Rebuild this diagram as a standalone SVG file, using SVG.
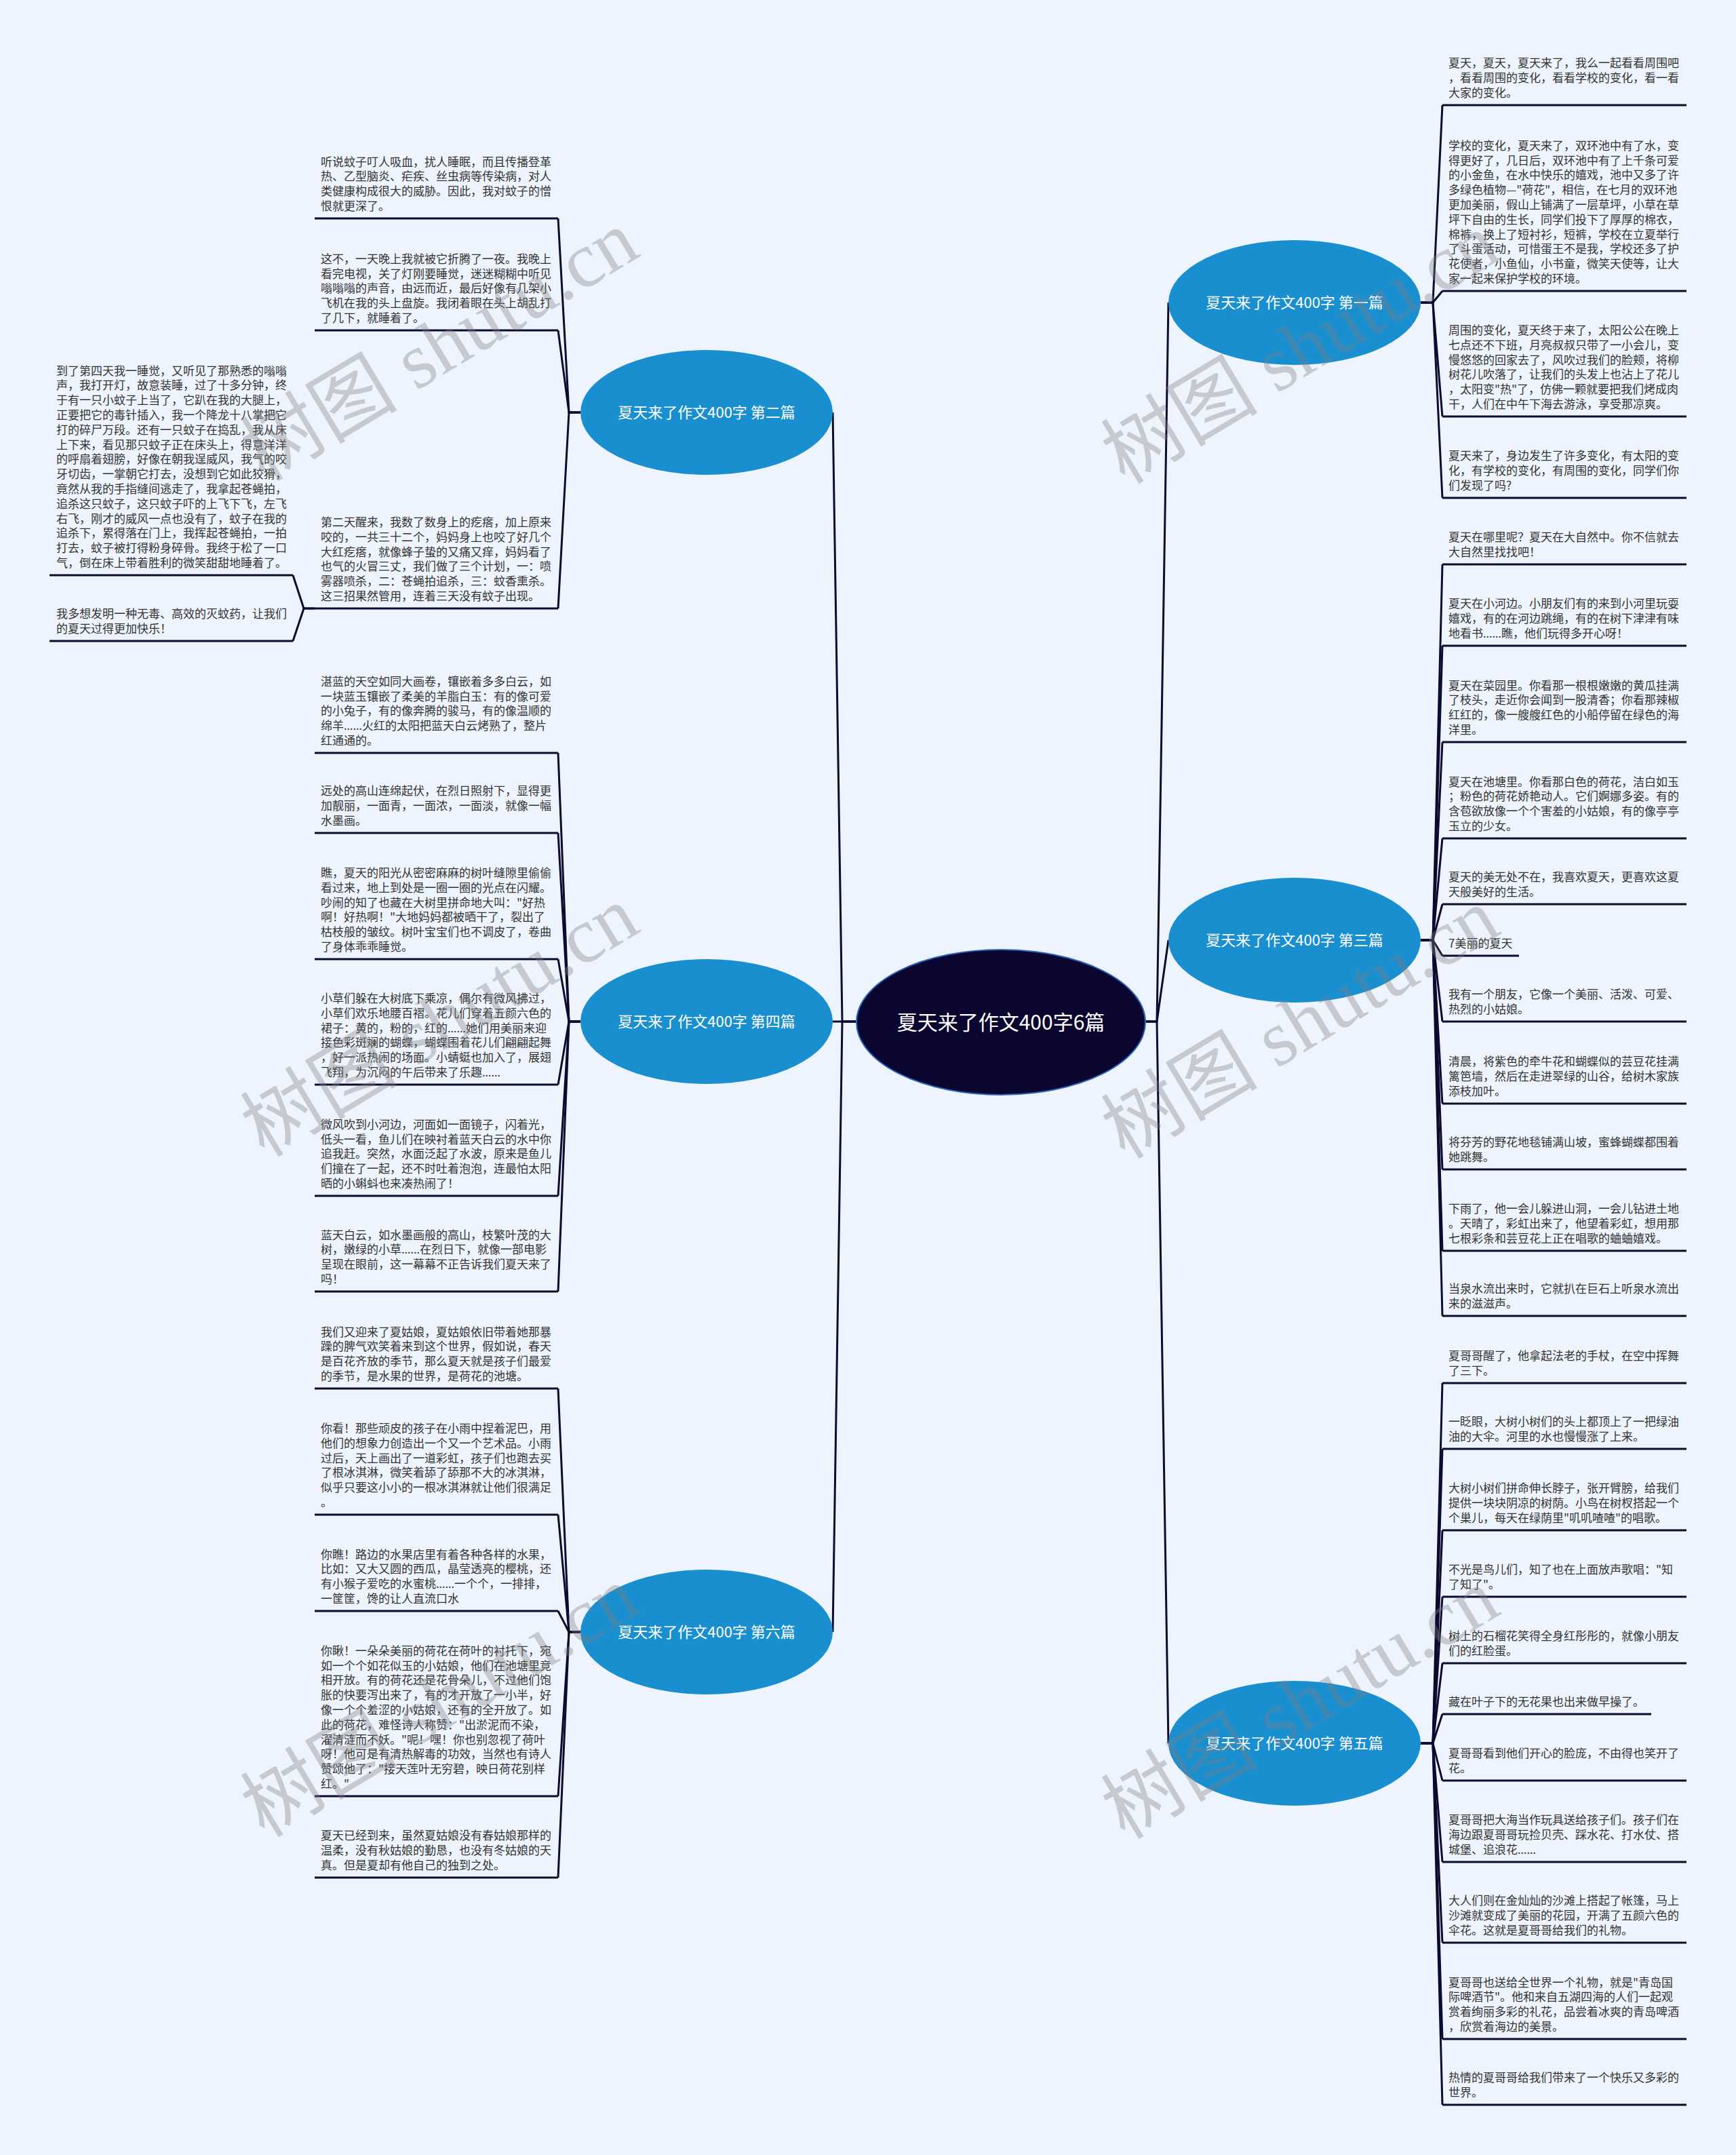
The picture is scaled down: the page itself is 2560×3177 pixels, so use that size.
<svg xmlns="http://www.w3.org/2000/svg" width="2560" height="3177" viewBox="0 0 2560 3177">
<style>
.t{font-family:"Noto Sans CJK SC","Noto Sans",sans-serif;font-size:17px;fill:#333333}
.e{font-family:"Noto Sans","Liberation Sans",sans-serif}
.ul{stroke:#0c0a2e;stroke-width:3;fill:none}
.c{stroke:#0c0a2e;stroke-width:3;fill:none;stroke-linejoin:round}
.bn{fill:#1a8fd0}
.bt{font-family:"Noto Sans CJK SC","Noto Sans",sans-serif;font-size:22px;fill:#ffffff;text-anchor:middle}
.wm{font-family:"Liberation Serif","Noto Sans CJK SC",serif;font-size:116px;fill:#808080;fill-opacity:0.36;text-anchor:middle}
</style>
<rect width="2560" height="3177" fill="#eef4fd"/>
<g id="connectors">
<path class="c" d="M1263 1506 H1242 L1228 608"/>
<path class="c" d="M1263 1506 H1228"/>
<path class="c" d="M1263 1506 H1242 L1228 2406"/>
<path class="c" d="M1689 1506 H1706 L1723 446"/>
<path class="c" d="M1689 1506 H1706 L1723 1386"/>
<path class="c" d="M1689 1506 H1706 L1723 2570"/>
<path class="c" d="M2095 446 H2113 L2127 155"/>
<path class="c" d="M2095 446 H2113 L2127 429"/>
<path class="c" d="M2095 446 H2113 L2127 614"/>
<path class="c" d="M2095 446 H2113 L2127 734"/>
<path class="c" d="M2095 1386 H2113 L2127 832"/>
<path class="c" d="M2095 1386 H2113 L2127 952"/>
<path class="c" d="M2095 1386 H2113 L2127 1094"/>
<path class="c" d="M2095 1386 H2113 L2127 1236"/>
<path class="c" d="M2095 1386 H2113 L2127 1333"/>
<path class="c" d="M2095 1386 H2113 L2127 1409"/>
<path class="c" d="M2095 1386 H2113 L2127 1506"/>
<path class="c" d="M2095 1386 H2113 L2127 1627"/>
<path class="c" d="M2095 1386 H2113 L2127 1724"/>
<path class="c" d="M2095 1386 H2113 L2127 1844"/>
<path class="c" d="M2095 1386 H2113 L2127 1940"/>
<path class="c" d="M2095 2570 H2113 L2127 2039"/>
<path class="c" d="M2095 2570 H2113 L2127 2136"/>
<path class="c" d="M2095 2570 H2113 L2127 2256"/>
<path class="c" d="M2095 2570 H2113 L2127 2354"/>
<path class="c" d="M2095 2570 H2113 L2127 2452"/>
<path class="c" d="M2095 2570 H2113 L2127 2527"/>
<path class="c" d="M2095 2570 H2113 L2127 2625"/>
<path class="c" d="M2095 2570 H2113 L2127 2745"/>
<path class="c" d="M2095 2570 H2113 L2127 2864"/>
<path class="c" d="M2095 2570 H2113 L2127 3006"/>
<path class="c" d="M2095 2570 H2113 L2127 3103"/>
<path class="c" d="M856 608 H839 L823 322"/>
<path class="c" d="M856 608 H839 L823 487"/>
<path class="c" d="M856 608 H839 L823 897"/>
<path class="c" d="M464 897 H448 L432 848"/>
<path class="c" d="M464 897 H448 L432 945"/>
<path class="c" d="M856 1506 H839 L823 1110"/>
<path class="c" d="M856 1506 H839 L823 1228"/>
<path class="c" d="M856 1506 H839 L823 1414"/>
<path class="c" d="M856 1506 H839 L823 1599"/>
<path class="c" d="M856 1506 H839 L823 1763"/>
<path class="c" d="M856 1506 H839 L823 1904"/>
<path class="c" d="M856 2406 H839 L823 2047"/>
<path class="c" d="M856 2406 H839 L823 2233"/>
<path class="c" d="M856 2406 H839 L823 2375"/>
<path class="c" d="M856 2406 H839 L823 2648"/>
<path class="c" d="M856 2406 H839 L823 2768"/>
</g>

<g id="root">
<ellipse cx="1476" cy="1507" rx="213" ry="107" fill="#0a0630" stroke="#2f63b8" stroke-width="2"/>
<text x="1476" y="1518" font-family="Noto Sans CJK SC, Noto Sans, sans-serif" font-size="30" fill="#ffffff" text-anchor="middle">夏天来了作文400字6篇</text>
</g>

<g id="b2"><ellipse class="bn" cx="1042" cy="608" rx="186" ry="92"/><text class="bt" x="1042" y="616">夏天来了作文400字 第二篇</text></g>
<g id="b4"><ellipse class="bn" cx="1042" cy="1506" rx="186" ry="92"/><text class="bt" x="1042" y="1514">夏天来了作文400字 第四篇</text></g>
<g id="b6"><ellipse class="bn" cx="1042" cy="2406" rx="186" ry="92"/><text class="bt" x="1042" y="2414">夏天来了作文400字 第六篇</text></g>
<g id="b1"><ellipse class="bn" cx="1909" cy="446" rx="186" ry="92"/><text class="bt" x="1909" y="454">夏天来了作文400字 第一篇</text></g>
<g id="b3"><ellipse class="bn" cx="1909" cy="1386" rx="186" ry="92"/><text class="bt" x="1909" y="1394">夏天来了作文400字 第三篇</text></g>
<g id="b5"><ellipse class="bn" cx="1909" cy="2570" rx="186" ry="92"/><text class="bt" x="1909" y="2578">夏天来了作文400字 第五篇</text></g>

<g id="l1-1"><text class="t" x="2136" y="99.4"><tspan x="2136">夏天，夏天，夏天来了，我么一起看看周围吧</tspan><tspan x="2136" dy="21.8">，看看周围的变化，看看学校的变化，看一看</tspan><tspan x="2136" dy="21.8">大家的变化。</tspan></text><line class="ul" x1="2127" y1="155" x2="2487" y2="155"/></g>
<g id="l1-2"><text class="t" x="2136" y="220.8"><tspan x="2136">学校的变化，夏天来了，双环池中有了水，变</tspan><tspan x="2136" dy="21.8">得更好了，几日后，双环池中有了上千条可爱</tspan><tspan x="2136" dy="21.8">的小金鱼，在水中快乐的嬉戏，池中又多了许</tspan><tspan x="2136" dy="21.8">多绿色植物—"荷花"，相信，在七月的双环池</tspan><tspan x="2136" dy="21.8">更加美丽，假山上铺满了一层草坪，小草在草</tspan><tspan x="2136" dy="21.8">坪下自由的生长，同学们投下了厚厚的棉衣，</tspan><tspan x="2136" dy="21.8">棉裤，换上了短衬衫，短裤，学校在立夏举行</tspan><tspan x="2136" dy="21.8">了斗蛋活动，可惜蛋王不是我，学校还多了护</tspan><tspan x="2136" dy="21.8">花使者，小鱼仙，小书童，微笑天使等，让大</tspan><tspan x="2136" dy="21.8">家一起来保护学校的环境。</tspan></text><line class="ul" x1="2127" y1="429" x2="2487" y2="429"/></g>
<g id="l1-3"><text class="t" x="2136" y="493"><tspan x="2136">周围的变化，夏天终于来了，太阳公公在晚上</tspan><tspan x="2136" dy="21.8">七点还不下班，月亮叔叔只带了一小会儿，变</tspan><tspan x="2136" dy="21.8">慢悠悠的回家去了，风吹过我们的脸颊，将柳</tspan><tspan x="2136" dy="21.8">树花儿吹落了，让我们的头发上也沾上了花儿</tspan><tspan x="2136" dy="21.8">，太阳变"热"了，仿佛一颗就要把我们烤成肉</tspan><tspan x="2136" dy="21.8">干，人们在中午下海去游泳，享受那凉爽。</tspan></text><line class="ul" x1="2127" y1="614" x2="2487" y2="614"/></g>
<g id="l1-4"><text class="t" x="2136" y="678.4"><tspan x="2136">夏天来了，身边发生了许多变化，有太阳的变</tspan><tspan x="2136" dy="21.8">化，有学校的变化，有周围的变化，同学们你</tspan><tspan x="2136" dy="21.8">们发现了吗?</tspan></text><line class="ul" x1="2127" y1="734" x2="2487" y2="734"/></g>

<g id="l3-1"><text class="t" x="2136" y="798.2"><tspan x="2136">夏天在哪里呢？夏天在大自然中。你不信就去</tspan><tspan x="2136" dy="21.8">大自然里找找吧！</tspan></text><line class="ul" x1="2127" y1="832" x2="2487" y2="832"/></g>
<g id="l3-2"><text class="t" x="2136" y="896.4"><tspan x="2136">夏天在小河边。小朋友们有的来到小河里玩耍</tspan><tspan x="2136" dy="21.8">嬉戏，有的在河边跳绳，有的在树下津津有味</tspan><tspan x="2136" dy="21.8">地看书<tspan class="e">……</tspan>瞧，他们玩得多开心呀！</tspan></text><line class="ul" x1="2127" y1="952" x2="2487" y2="952"/></g>
<g id="l3-3"><text class="t" x="2136" y="1016.6"><tspan x="2136">夏天在菜园里。你看那一根根嫩嫩的黄瓜挂满</tspan><tspan x="2136" dy="21.8">了枝头，走近你会闻到一股清香；你看那辣椒</tspan><tspan x="2136" dy="21.8">红红的，像一艘艘红色的小船停留在绿色的海</tspan><tspan x="2136" dy="21.8">洋里。</tspan></text><line class="ul" x1="2127" y1="1094" x2="2487" y2="1094"/></g>
<g id="l3-4"><text class="t" x="2136" y="1158.6"><tspan x="2136">夏天在池塘里。你看那白色的荷花，洁白如玉</tspan><tspan x="2136" dy="21.8">；粉色的荷花娇艳动人。它们婀娜多姿。有的</tspan><tspan x="2136" dy="21.8">含苞欲放像一个个害羞的小姑娘，有的像亭亭</tspan><tspan x="2136" dy="21.8">玉立的少女。</tspan></text><line class="ul" x1="2127" y1="1236" x2="2487" y2="1236"/></g>
<g id="l3-5"><text class="t" x="2136" y="1299.2"><tspan x="2136">夏天的美无处不在，我喜欢夏天，更喜欢这夏</tspan><tspan x="2136" dy="21.8">天般美好的生活。</tspan></text><line class="ul" x1="2127" y1="1333" x2="2487" y2="1333"/></g>
<g id="l3-6"><text class="t" x="2136" y="1397">7美丽的夏天</text><line class="ul" x1="2127" y1="1409" x2="2240" y2="1409"/></g>
<g id="l3-7"><text class="t" x="2136" y="1472.2"><tspan x="2136">我有一个朋友，它像一个美丽、活泼、可爱、</tspan><tspan x="2136" dy="21.8">热烈的小姑娘。</tspan></text><line class="ul" x1="2127" y1="1506" x2="2487" y2="1506"/></g>
<g id="l3-8"><text class="t" x="2136" y="1571.4"><tspan x="2136">清晨，将紫色的牵牛花和蝴蝶似的芸豆花挂满</tspan><tspan x="2136" dy="21.8">篱笆墙，然后在走进翠绿的山谷，给树木家族</tspan><tspan x="2136" dy="21.8">添枝加叶。</tspan></text><line class="ul" x1="2127" y1="1627" x2="2487" y2="1627"/></g>
<g id="l3-9"><text class="t" x="2136" y="1690.2"><tspan x="2136">将芬芳的野花地毯铺满山坡，蜜蜂蝴蝶都围着</tspan><tspan x="2136" dy="21.8">她跳舞。</tspan></text><line class="ul" x1="2127" y1="1724" x2="2487" y2="1724"/></g>
<g id="l3-10"><text class="t" x="2136" y="1788.4"><tspan x="2136">下雨了，他一会儿躲进山洞，一会儿钻进土地</tspan><tspan x="2136" dy="21.8">。天晴了，彩虹出来了，他望着彩虹，想用那</tspan><tspan x="2136" dy="21.8">七根彩条和芸豆花上正在唱歌的蛐蛐嬉戏。</tspan></text><line class="ul" x1="2127" y1="1844" x2="2487" y2="1844"/></g>
<g id="l3-11"><text class="t" x="2136" y="1906.2"><tspan x="2136">当泉水流出来时，它就扒在巨石上听泉水流出</tspan><tspan x="2136" dy="21.8">来的滋滋声。</tspan></text><line class="ul" x1="2127" y1="1940" x2="2487" y2="1940"/></g>

<g id="l5-1"><text class="t" x="2136" y="2005.2"><tspan x="2136">夏哥哥醒了，他拿起法老的手杖，在空中挥舞</tspan><tspan x="2136" dy="21.8">了三下。</tspan></text><line class="ul" x1="2127" y1="2039" x2="2487" y2="2039"/></g>
<g id="l5-2"><text class="t" x="2136" y="2102.2"><tspan x="2136">一眨眼，大树小树们的头上都顶上了一把绿油</tspan><tspan x="2136" dy="21.8">油的大伞。河里的水也慢慢涨了上来。</tspan></text><line class="ul" x1="2127" y1="2136" x2="2487" y2="2136"/></g>
<g id="l5-3"><text class="t" x="2136" y="2200.4"><tspan x="2136">大树小树们拼命伸长脖子，张开臂膀，给我们</tspan><tspan x="2136" dy="21.8">提供一块块阴凉的树荫。小鸟在树杈搭起一个</tspan><tspan x="2136" dy="21.8">个巢儿，每天在绿荫里"叽叽喳喳"的唱歌。</tspan></text><line class="ul" x1="2127" y1="2256" x2="2487" y2="2256"/></g>
<g id="l5-4"><text class="t" x="2136" y="2320.2"><tspan x="2136">不光是鸟儿们，知了也在上面放声歌唱："知</tspan><tspan x="2136" dy="21.8">了知了"。</tspan></text><line class="ul" x1="2127" y1="2354" x2="2487" y2="2354"/></g>
<g id="l5-5"><text class="t" x="2136" y="2418.2"><tspan x="2136">树上的石榴花笑得全身红彤彤的，就像小朋友</tspan><tspan x="2136" dy="21.8">们的红脸蛋。</tspan></text><line class="ul" x1="2127" y1="2452" x2="2487" y2="2452"/></g>
<g id="l5-6"><text class="t" x="2136" y="2515">藏在叶子下的无花果也出来做早操了。</text><line class="ul" x1="2127" y1="2527" x2="2435" y2="2527"/></g>
<g id="l5-7"><text class="t" x="2136" y="2591.2"><tspan x="2136">夏哥哥看到他们开心的脸庞，不由得也笑开了</tspan><tspan x="2136" dy="21.8">花。</tspan></text><line class="ul" x1="2127" y1="2625" x2="2487" y2="2625"/></g>
<g id="l5-8"><text class="t" x="2136" y="2689.4"><tspan x="2136">夏哥哥把大海当作玩具送给孩子们。孩子们在</tspan><tspan x="2136" dy="21.8">海边跟夏哥哥玩捡贝壳、踩水花、打水仗、搭</tspan><tspan x="2136" dy="21.8">城堡、追浪花<tspan class="e">……</tspan></tspan></text><line class="ul" x1="2127" y1="2745" x2="2487" y2="2745"/></g>
<g id="l5-9"><text class="t" x="2136" y="2808.4"><tspan x="2136">大人们则在金灿灿的沙滩上搭起了帐篷，马上</tspan><tspan x="2136" dy="21.8">沙滩就变成了美丽的花园，开满了五颜六色的</tspan><tspan x="2136" dy="21.8">伞花。这就是夏哥哥给我们的礼物。</tspan></text><line class="ul" x1="2127" y1="2864" x2="2487" y2="2864"/></g>
<g id="l5-10"><text class="t" x="2136" y="2928.6"><tspan x="2136">夏哥哥也送给全世界一个礼物，就是"青岛国</tspan><tspan x="2136" dy="21.8">际啤酒节"。他和来自五湖四海的人们一起观</tspan><tspan x="2136" dy="21.8">赏着绚丽多彩的礼花，品尝着冰爽的青岛啤酒</tspan><tspan x="2136" dy="21.8">，欣赏着海边的美景。</tspan></text><line class="ul" x1="2127" y1="3006" x2="2487" y2="3006"/></g>
<g id="l5-11"><text class="t" x="2136" y="3069.2"><tspan x="2136">热情的夏哥哥给我们带来了一个快乐又多彩的</tspan><tspan x="2136" dy="21.8">世界。</tspan></text><line class="ul" x1="2127" y1="3103" x2="2487" y2="3103"/></g>

<g id="l2-1"><text class="t" x="473" y="244.6"><tspan x="473">听说蚊子叮人吸血，扰人睡眠，而且传播登革</tspan><tspan x="473" dy="21.8">热、乙型脑炎、疟疾、丝虫病等传染病，对人</tspan><tspan x="473" dy="21.8">类健康构成很大的威胁。因此，我对蚊子的憎</tspan><tspan x="473" dy="21.8">恨就更深了。</tspan></text><line class="ul" x1="464" y1="322" x2="823" y2="322"/></g>
<g id="l2-2"><text class="t" x="473" y="387.8"><tspan x="473">这不，一天晚上我就被它折腾了一夜。我晚上</tspan><tspan x="473" dy="21.8">看完电视，关了灯刚要睡觉，迷迷糊糊中听见</tspan><tspan x="473" dy="21.8">嗡嗡嗡的声音，由远而近，最后好像有几架小</tspan><tspan x="473" dy="21.8">飞机在我的头上盘旋。我闭着眼在头上胡乱打</tspan><tspan x="473" dy="21.8">了几下，就睡着了。</tspan></text><line class="ul" x1="464" y1="487" x2="823" y2="487"/></g>
<g id="l2-3"><text class="t" x="473" y="776"><tspan x="473">第二天醒来，我数了数身上的疙瘩，加上原来</tspan><tspan x="473" dy="21.8">咬的，一共三十二个，妈妈身上也咬了好几个</tspan><tspan x="473" dy="21.8">大红疙瘩，就像蜂子蛰的又痛又痒，妈妈看了</tspan><tspan x="473" dy="21.8">也气的火冒三丈，我们做了三个计划，一：喷</tspan><tspan x="473" dy="21.8">雾器喷杀，二：苍蝇拍追杀，三：蚊香熏杀。</tspan><tspan x="473" dy="21.8">这三招果然管用，连着三天没有蚊子出现。</tspan></text><line class="ul" x1="464" y1="897" x2="823" y2="897"/></g>
<g id="l2-3a"><text class="t" x="83" y="552.6"><tspan x="83">到了第四天我一睡觉，又听见了那熟悉的嗡嗡</tspan><tspan x="83" dy="21.8">声，我打开灯，故意装睡，过了十多分钟，终</tspan><tspan x="83" dy="21.8">于有一只小蚊子上当了，它趴在我的大腿上，</tspan><tspan x="83" dy="21.8">正要把它的毒针插入，我一个降龙十八掌把它</tspan><tspan x="83" dy="21.8">打的碎尸万段。还有一只蚊子在捣乱，我从床</tspan><tspan x="83" dy="21.8">上下来，看见那只蚊子正在床头上，得意洋洋</tspan><tspan x="83" dy="21.8">的呼扇着翅膀，好像在朝我逞威风，我气的咬</tspan><tspan x="83" dy="21.8">牙切齿，一掌朝它打去，没想到它如此狡猾，</tspan><tspan x="83" dy="21.8">竟然从我的手指缝间逃走了，我拿起苍蝇拍，</tspan><tspan x="83" dy="21.8">追杀这只蚊子，这只蚊子吓的上飞下飞，左飞</tspan><tspan x="83" dy="21.8">右飞，刚才的威风一点也没有了，蚊子在我的</tspan><tspan x="83" dy="21.8">追杀下，累得落在门上，我挥起苍蝇拍，一拍</tspan><tspan x="83" dy="21.8">打去，蚊子被打得粉身碎骨。我终于松了一口</tspan><tspan x="83" dy="21.8">气，倒在床上带着胜利的微笑甜甜地睡着了。</tspan></text><line class="ul" x1="73" y1="848" x2="432" y2="848"/></g>
<g id="l2-3b"><text class="t" x="83" y="911.2"><tspan x="83">我多想发明一种无毒、高效的灭蚊药，让我们</tspan><tspan x="83" dy="21.8">的夏天过得更加快乐！</tspan></text><line class="ul" x1="73" y1="945" x2="432" y2="945"/></g>

<g id="l4-1"><text class="t" x="473" y="1010.8"><tspan x="473">湛蓝的天空如同大画卷，镶嵌着多多白云，如</tspan><tspan x="473" dy="21.8">一块蓝玉镶嵌了柔美的羊脂白玉：有的像可爱</tspan><tspan x="473" dy="21.8">的小兔子，有的像奔腾的骏马，有的像温顺的</tspan><tspan x="473" dy="21.8">绵羊<tspan class="e">……</tspan>火红的太阳把蓝天白云烤熟了，整片</tspan><tspan x="473" dy="21.8">红通通的。</tspan></text><line class="ul" x1="464" y1="1110" x2="823" y2="1110"/></g>
<g id="l4-2"><text class="t" x="473" y="1172.4"><tspan x="473">远处的高山连绵起伏，在烈日照射下，显得更</tspan><tspan x="473" dy="21.8">加靓丽，一面青，一面浓，一面淡，就像一幅</tspan><tspan x="473" dy="21.8">水墨画。</tspan></text><line class="ul" x1="464" y1="1228" x2="823" y2="1228"/></g>
<g id="l4-3"><text class="t" x="473" y="1293"><tspan x="473">瞧，夏天的阳光从密密麻麻的树叶缝隙里偷偷</tspan><tspan x="473" dy="21.8">看过来，地上到处是一圈一圈的光点在闪耀。</tspan><tspan x="473" dy="21.8">吵闹的知了也藏在大树里拼命地大叫："好热</tspan><tspan x="473" dy="21.8">啊！好热啊！"大地妈妈都被晒干了，裂出了</tspan><tspan x="473" dy="21.8">枯枝般的皱纹。树叶宝宝们也不调皮了，卷曲</tspan><tspan x="473" dy="21.8">了身体乖乖睡觉。</tspan></text><line class="ul" x1="464" y1="1414" x2="823" y2="1414"/></g>
<g id="l4-4"><text class="t" x="473" y="1478"><tspan x="473">小草们躲在大树底下乘凉，偶尔有微风拂过，</tspan><tspan x="473" dy="21.8">小草们欢乐地腰百褶。花儿们穿着五颜六色的</tspan><tspan x="473" dy="21.8">裙子：黄的，粉的，红的<tspan class="e">……</tspan>她们用美丽来迎</tspan><tspan x="473" dy="21.8">接色彩斑斓的蝴蝶，蝴蝶围着花儿们翩翩起舞</tspan><tspan x="473" dy="21.8">，好一派热闹的场面。小蜻蜓也加入了，展翅</tspan><tspan x="473" dy="21.8">飞翔，为沉闷的午后带来了乐趣<tspan class="e">……</tspan></tspan></text><line class="ul" x1="464" y1="1599" x2="823" y2="1599"/></g>
<g id="l4-5"><text class="t" x="473" y="1663.8"><tspan x="473">微风吹到小河边，河面如一面镜子，闪着光，</tspan><tspan x="473" dy="21.8">低头一看，鱼儿们在映衬着蓝天白云的水中你</tspan><tspan x="473" dy="21.8">追我赶。突然，水面泛起了水波，原来是鱼儿</tspan><tspan x="473" dy="21.8">们撞在了一起，还不时吐着泡泡，连最怕太阳</tspan><tspan x="473" dy="21.8">晒的小蝌蚪也来凑热闹了！</tspan></text><line class="ul" x1="464" y1="1763" x2="823" y2="1763"/></g>
<g id="l4-6"><text class="t" x="473" y="1826.6"><tspan x="473">蓝天白云，如水墨画般的高山，枝繁叶茂的大</tspan><tspan x="473" dy="21.8">树，嫩绿的小草<tspan class="e">……</tspan>在烈日下，就像一部电影</tspan><tspan x="473" dy="21.8">呈现在眼前，这一幕幕不正告诉我们夏天来了</tspan><tspan x="473" dy="21.8">吗！</tspan></text><line class="ul" x1="464" y1="1904" x2="823" y2="1904"/></g>

<g id="l6-1"><text class="t" x="473" y="1969.6"><tspan x="473">我们又迎来了夏姑娘，夏姑娘依旧带着她那暴</tspan><tspan x="473" dy="21.8">躁的脾气欢笑着来到这个世界，假如说，春天</tspan><tspan x="473" dy="21.8">是百花齐放的季节，那么夏天就是孩子们最爱</tspan><tspan x="473" dy="21.8">的季节，是水果的世界，是荷花的池塘。</tspan></text><line class="ul" x1="464" y1="2047" x2="823" y2="2047"/></g>
<g id="l6-2"><text class="t" x="473" y="2112"><tspan x="473">你看！那些顽皮的孩子在小雨中捏着泥巴，用</tspan><tspan x="473" dy="21.8">他们的想象力创造出一个又一个艺术品。小雨</tspan><tspan x="473" dy="21.8">过后，天上画出了一道彩虹，孩子们也跑去买</tspan><tspan x="473" dy="21.8">了根冰淇淋，微笑着舔了舔那不大的冰淇淋，</tspan><tspan x="473" dy="21.8">似乎只要这小小的一根冰淇淋就让他们很满足</tspan><tspan x="473" dy="21.8">。</tspan></text><line class="ul" x1="464" y1="2233" x2="823" y2="2233"/></g>
<g id="l6-3"><text class="t" x="473" y="2297.6"><tspan x="473">你瞧！路边的水果店里有着各种各样的水果，</tspan><tspan x="473" dy="21.8">比如：又大又圆的西瓜，晶莹透亮的樱桃，还</tspan><tspan x="473" dy="21.8">有小猴子爱吃的水蜜桃<tspan class="e">……</tspan>一个个，一排排，</tspan><tspan x="473" dy="21.8">一筐筐，馋的让人直流口水</tspan></text><line class="ul" x1="464" y1="2375" x2="823" y2="2375"/></g>
<g id="l6-4"><text class="t" x="473" y="2439.8"><tspan x="473">你瞅！一朵朵美丽的荷花在荷叶的衬托下，宛</tspan><tspan x="473" dy="21.8">如一个个如花似玉的小姑娘，他们在池塘里竞</tspan><tspan x="473" dy="21.8">相开放。有的荷花还是花骨朵儿，不过他们饱</tspan><tspan x="473" dy="21.8">胀的快要泻出来了，有的才开放了一小半，好</tspan><tspan x="473" dy="21.8">像一个个羞涩的小姑娘，还有的全开放了。如</tspan><tspan x="473" dy="21.8">此的荷花，难怪诗人称赞："出淤泥而不染，</tspan><tspan x="473" dy="21.8">濯清涟而不妖。"呢！嘿！你也别忽视了荷叶</tspan><tspan x="473" dy="21.8">呀！他可是有清热解毒的功效，当然也有诗人</tspan><tspan x="473" dy="21.8">赞颂他了："接天莲叶无穷碧，映日荷花别样</tspan><tspan x="473" dy="21.8">红。"</tspan></text><line class="ul" x1="464" y1="2648" x2="823" y2="2648"/></g>
<g id="l6-5"><text class="t" x="473" y="2712.4"><tspan x="473">夏天已经到来，虽然夏姑娘没有春姑娘那样的</tspan><tspan x="473" dy="21.8">温柔，没有秋姑娘的勤恳，也没有冬姑娘的天</tspan><tspan x="473" dy="21.8">真。但是夏却有他自己的独到之处。</tspan></text><line class="ul" x1="464" y1="2768" x2="823" y2="2768"/></g>

<g id="watermarks">
<g transform="translate(649 511) rotate(-31)"><text class="wm" x="0" y="38">树图 shutu.cn</text></g>
<g transform="translate(649 1507) rotate(-31)"><text class="wm" x="0" y="38">树图 shutu.cn</text></g>
<g transform="translate(649 2510) rotate(-31)"><text class="wm" x="0" y="38">树图 shutu.cn</text></g>
<g transform="translate(1918 515) rotate(-31)"><text class="wm" x="0" y="38">树图 shutu.cn</text></g>
<g transform="translate(1918 1510) rotate(-31)"><text class="wm" x="0" y="38">树图 shutu.cn</text></g>
<g transform="translate(1918 2513) rotate(-31)"><text class="wm" x="0" y="38">树图 shutu.cn</text></g>
</g>
</svg>
